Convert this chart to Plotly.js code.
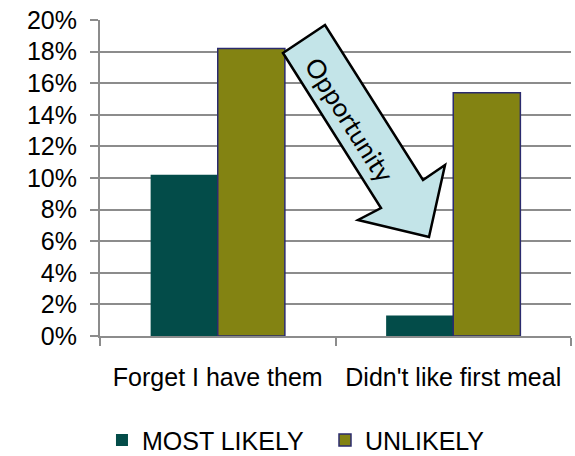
<!DOCTYPE html>
<html>
<head>
<meta charset="utf-8">
<script src="https://cdn.plot.ly/plotly-3.0.1.min.js"></script>
<style>html,body{margin:0;padding:0;background:#fff;}#chart{width:575px;height:456px;}</style>
</head>
<body>
<div id="chart"></div>
<script>
var categories = ["Forget I have them", "Didn't like first meal"];
var mostLikely = [0.102, 0.013];
var unlikely = [0.182, 0.154];
var seriesNames = ["MOST LIKELY", "UNLIKELY"];
var yTickVals = [0, 0.02, 0.04, 0.06, 0.08, 0.10, 0.12, 0.14, 0.16, 0.18, 0.20];

var FONT = "Liberation Sans, Arial, sans-serif";

var traces = [
  {type: "bar", name: seriesNames[0], x: categories, y: mostLikely, legend: "legend",
   marker: {color: "#034c49", line: {width: 0}}},
  {type: "bar", name: seriesNames[1], x: categories, y: unlikely, legend: "legend2",
   marker: {color: "#838312", line: {color: "#2b2b6e", width: 1.5}}}
];

var legendBase = {orientation: "h", xanchor: "left", y: -0.33, yanchor: "middle",
                  bgcolor: "rgba(0,0,0,0)", font: {family: FONT, size: 25, color: "#000"}};

var layout = {
  width: 575, height: 456,
  margin: {l: 100, r: 4, t: 20, b: 120, autoexpand: false},
  paper_bgcolor: "#fff", plot_bgcolor: "#fff",
  font: {family: FONT, size: 25, color: "#000"},
  barmode: "group", bargap: 0.43, bargroupgap: 0,
  showlegend: true,
  legend: Object.assign({}, legendBase, {x: 0.0042}),
  legend2: Object.assign({}, legendBase, {x: 0.4777}),
  xaxis: {type: "category", automargin: false, showline: true, linecolor: "#8c8c8c", linewidth: 2,
          ticks: "outside", tickson: "boundaries", ticklen: 8, tickcolor: "#8c8c8c", tickwidth: 2,
          ticklabelstandoff: 18, showgrid: false, zeroline: false,
          tickfont: {family: FONT, size: 25, color: "#000"}},
  yaxis: {range: [0, 0.2], automargin: false, tickvals: yTickVals, tickformat: ".0%", showline: true, linecolor: "#8c8c8c", linewidth: 2,
          ticks: "outside", ticklen: 8, tickcolor: "#8c8c8c", tickwidth: 2,
          showgrid: true, gridcolor: "#8c8c8c", gridwidth: 2, zeroline: false, ticklabelstandoff: 8,
          tickfont: {family: FONT, size: 25, color: "#000"}},
  shapes: [{
    type: "path", xref: "paper", yref: "paper", layer: "above",
    path: "M 0.3885 0.8956 L 0.4777 0.9842 L 0.6858 0.4937 L 0.7325 0.5411 L 0.6985 0.3133 L 0.5478 0.3671 L 0.5966 0.4051 Z",
    fillcolor: "#c3e4e8", line: {color: "#000", width: 2.5}
  }],
  annotations: [{
    xref: "paper", yref: "paper", x: 0.5308, y: 0.6835, xanchor: "center", yanchor: "middle",
    text: "Opportunity", showarrow: false, textangle: 57.7,
    font: {family: "Lato, Open Sans, sans-serif", size: 26, color: "#000"}
  }]
};

Plotly.newPlot("chart", traces, layout, {displayModeBar: false, staticPlot: true});
</script>
</body>
</html>
